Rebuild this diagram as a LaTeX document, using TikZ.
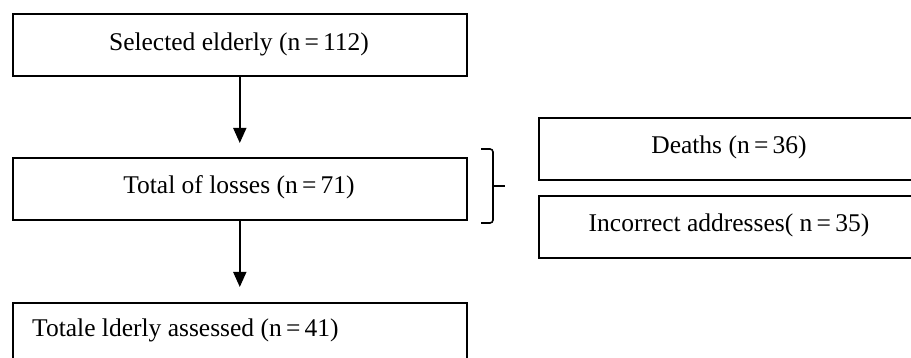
\documentclass[tikz,border=0pt]{standalone}
\usepackage{fontspec}
\setmainfont{Liberation Serif}
\usetikzlibrary{arrows.meta}
\begin{document}
\begin{tikzpicture}[x=1pt,y=-1pt,
  box/.style={draw, line width=1.6pt, inner sep=0pt, anchor=north west},
  lab/.style={font=\fontsize{25.5}{30}\selectfont, inner sep=0pt},
  arr/.style={line width=1.6pt, -{Triangle[width=13pt,length=15pt]}}]
\clip (0,0) rectangle (911,358);
\node[box, minimum width=454pt, minimum height=62pt] (sel) at (12,13) {};
\node[lab] (selt) at (239,44) {Selected elderly (n\,=\,112)};
\node[box, minimum width=454pt, minimum height=62pt] (loss) at (12,157) {};
\node[lab] (losst) at (239,187) {Total of losses (n\,=\,71)};
\node[box, minimum width=454pt, minimum height=90pt] (tot) at (12,302) {};
\node[lab, anchor=west] (tott) at (32,330) {Totale lderly assessed (n\,=\,41)};
\node[box, minimum width=390pt, minimum height=62pt] (death) at (538,117) {};
\node[lab] (deatht) at (729,147) {Deaths (n\,=\,36)};
\node[box, minimum width=390pt, minimum height=62pt] (addr) at (538,195) {};
\node[lab] (addrt) at (729,225) {Incorrect addresses( n\,=\,35)};
\draw[arr] (sel.south) -- ([yshift=14pt]loss.north);
\draw[arr] (loss.south) -- ([yshift=15pt]tot.north);
\draw[line width=1.6pt, rounded corners=3pt] (481,149) -- (493,149) -- (493,223) -- (481,223);
\draw[line width=1.6pt] (493,186) -- (505,186);
\end{tikzpicture}
\end{document}
